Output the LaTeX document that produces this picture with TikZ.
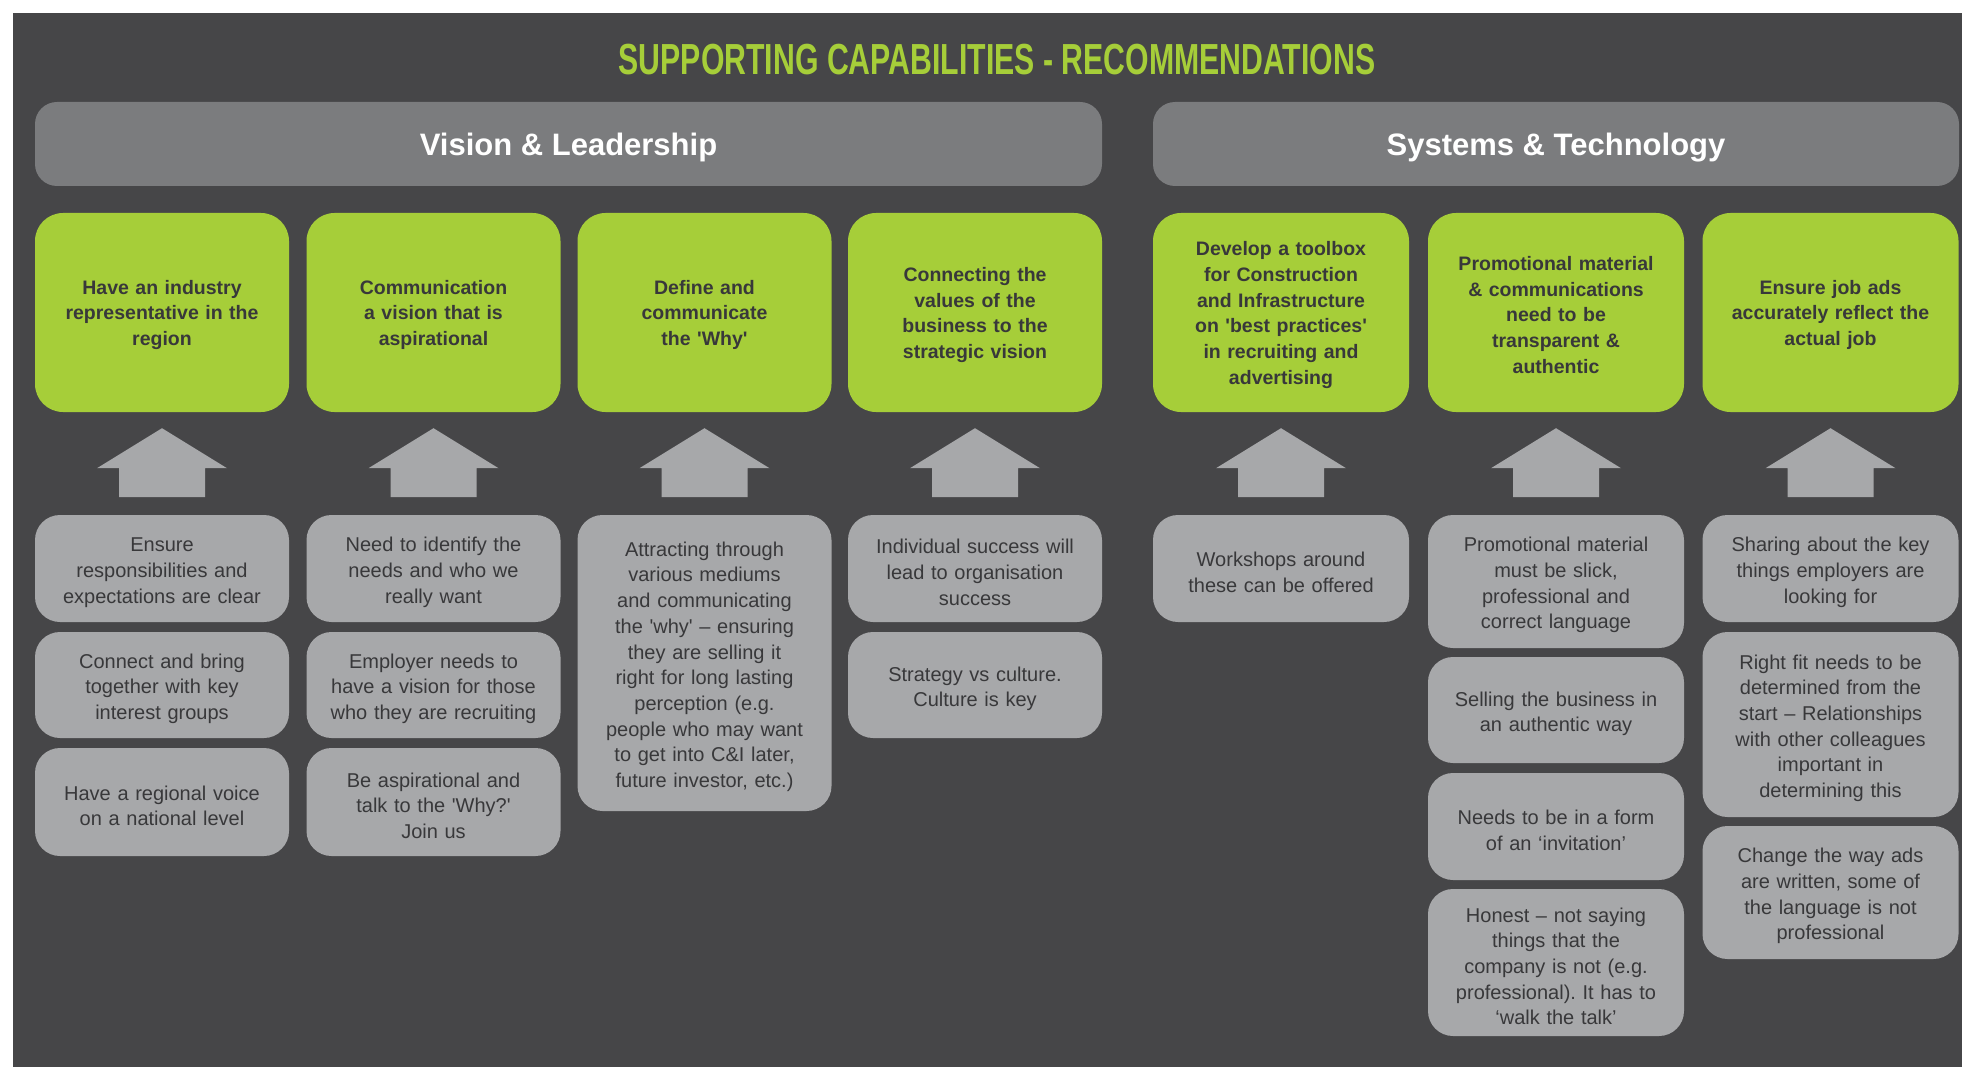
\documentclass[tikz,border=0pt]{standalone}
\usepackage{fontspec}
\setmainfont{Liberation Sans}
\newfontfamily\titlefont[FakeStretch=0.695]{Liberation Sans}
\usetikzlibrary{calc}
\definecolor{bg}{HTML}{464648}
\definecolor{barg}{HTML}{7B7C7E}
\definecolor{lime}{HTML}{A6CE39}
\definecolor{boxg}{HTML}{A7A8AA}
\definecolor{ink}{HTML}{38383A}
\newcommand{\sq}{\textquotesingle}
\frenchspacing

\begin{document}
\begin{tikzpicture}[x=1pt,y=-1pt]
\tikzstyle{bar}=[fill=barg,rounded corners=22pt,minimum height=84pt,text depth=0pt,text=white,font=\fontsize{31}{36}\selectfont\bfseries]
\tikzstyle{grn}=[fill=lime,rounded corners=28pt,minimum height=199pt,inner sep=4pt,text width=236pt,text height=19pt,align=center,text=ink,font=\fontsize{19.5}{25.7}\selectfont\bfseries]
\tikzstyle{gry}=[fill=boxg,rounded corners=25pt,inner sep=4pt,text width=236pt,text height=22pt,align=center,text=ink,font=\fontsize{20}{25.7}\selectfont]
\useasboundingbox (0,0) rectangle (1962,1067);
\fill[white] (0,0) rectangle (1962,1067);
\fill[bg] (13,13) rectangle (1962,1067);
\node[anchor=base,text=lime,font={\titlefont\bfseries\fontsize{43.5}{48}\selectfont}] (title) at (997,75) {SUPPORTING CAPABILITIES - RECOMMENDATIONS};
\node[bar,minimum width=1067pt] (vl) at (568.5,144) {Vision \& Leadership};
\node[bar,minimum width=806pt] (st) at (1556,144) {Systems \& Technology};
\foreach \i/\x/\w/\t in {1/162/254/{Have an industry\\representative in the\\region},
  2/433.5/254/{Communication\\a vision that is\\aspirational},
  3/704.5/254/{Define and\\communicate\\the \sq Why\sq},
  4/975/254/{Connecting the\\values of the\\business to the\\strategic vision},
  5/1281/256/{Develop a toolbox\\for Construction\\and Infrastructure\\on \sq best practices\sq\\in recruiting and\\advertising},
  6/1556/256/{Promotional material\\\& communications\\need to be\\transparent \&\\authentic},
  7/1830.5/256/{Ensure job ads\\accurately reflect the\\actual job}}
  \node[grn,minimum width=\w] (g\i) at (\x,312.5) {\t};
\foreach \i in {1,...,7}
  \fill[boxg,shift={(g\i.south)}] (-43,85) -- (-43,56) -- (-65,56) -- (0,16) -- (65,56) -- (43,56) -- (43,85) -- cycle;
\foreach \c/\x/\w/\ya/\yb/\t in {1a/162/254/515/622/{Ensure\\responsibilities and\\expectations are clear},
  1b/162/254/632/738/{Connect and bring\\together with key\\interest groups},
  1c/162/254/748/856/{Have a regional voice\\on a national level},
  2a/433.5/254/515/622/{Need to identify the\\needs and who we\\really want},
  2b/433.5/254/632/738/{Employer needs to\\have a vision for those\\who they are recruiting},
  2c/433.5/254/748/856/{Be aspirational and\\talk to the \sq Why?\sq\\Join us},
  3a/704.5/254/515/811/{Attracting through\\various mediums\\and communicating\\the \sq why\sq{} -- ensuring\\they are selling it\\right for long lasting\\perception (e.g.\\people who may want\\to get into C\&I later,\\future investor, etc.)},
  4a/975/254/515/622/{Individual success will\\lead to organisation\\success},
  4b/975/254/632/738/{Strategy vs culture.\\Culture is key},
  5a/1281/256/515/622/{Workshops around\\these can be offered},
  6a/1556/256/515/648/{Promotional material\\must be slick,\\professional and\\correct language},
  6b/1556/256/657/763/{Selling the business in\\an authentic way},
  6c/1556/256/773/880/{Needs to be in a form\\of an `invitation'},
  6d/1556/256/889/1036/{Honest -- not saying\\things that the\\company is not (e.g.\\professional). It has to\\`walk the talk'},
  7a/1830.5/256/515/622/{Sharing about the key\\things employers are\\looking for},
  7b/1830.5/256/632/817/{Right fit needs to be\\determined from the\\start -- Relationships\\with other colleagues\\important in\\determining this},
  7c/1830.5/256/826/959/{Change the way ads\\are written, some of\\the language is not\\professional}}
  \node[gry,minimum width=\w,minimum height=\yb-\ya] (s\c) at (\x,{(\ya+\yb)/2}) {\t};
\end{tikzpicture}
\end{document}
